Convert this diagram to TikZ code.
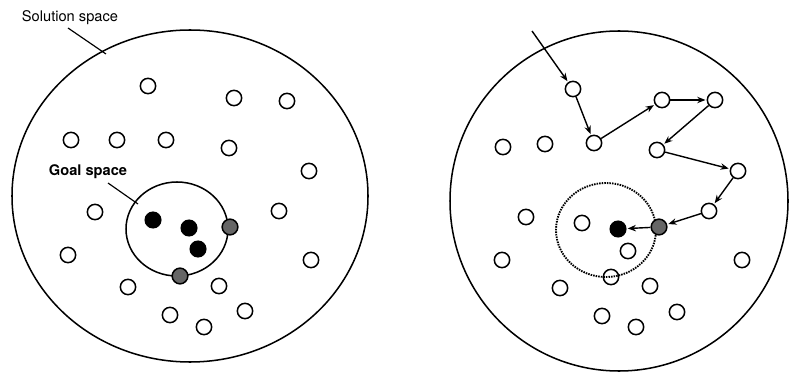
\documentclass[tikz,border=0pt]{standalone}
\usepackage{fontspec}
\setmainfont{TeX Gyre Heros}
\usetikzlibrary{positioning, arrows.meta, calc}
\tikzset{every picture/.append style={thick}}
\tikzset{
    pt/.style={circle, draw, line width=1.3pt, minimum size=0.46cm, inner sep=0pt},
    hit/.style={circle, draw, fill=black, line width=1.2pt, minimum size=0.47cm, inner sep=0pt},
    edge/.style={circle, draw, fill=black!60, line width=1.3pt, minimum size=0.47cm, inner sep=0pt},
    lbl/.style={font=\fontsize{12.5}{14}\selectfont},
    move/.style={->, >={Stealth[length=7pt, width=5.5pt]}, line width=1.2pt, shorten >=1pt}
}

\begin{document}
\begin{tikzpicture}[x=0.03cm, y=-0.03cm]
    \useasboundingbox (0,0) rectangle (789,372);

    % ---------- left: solution space with goal space ----------
    \draw[line width=1.3pt] (190,196) ellipse [x radius=178, y radius=166];
    \node[lbl] (soln) at (70,18) {Solution space};
    \coordinate (solnend) at (106,54);
    \draw[line width=1pt] (68,28) -- (solnend);

    % points of the solution space
    \foreach \n/\x/\y in {a/148/86, b/234/98, c/287/101, d/71/140, e/117/140,
                          f/166/140, g/229/148, h/309/171, i/95/212, j/279/211,
                          k/68/255, l/311/260, m/128/287, n/219/286, o/170/315,
                          p/245/311, q/204/327}
        \node[pt] (L\n) at (\x,\y) {};

    % goal space
    \draw[line width=1.3pt] (177,229) ellipse [x radius=51, y radius=47];
    \node[lbl, font=\bfseries\fontsize{12.5}{14}\selectfont] (goal) at (88,172) {Goal space};
    \coordinate (goalend) at (138,204);
    \draw[line width=1pt] (108,183) -- (goalend);

    \node[hit] (Lg1) at (153,220) {};
    \node[hit] (Lg2) at (189,228) {};
    \node[hit] (Lg3) at (198,249) {};
    \node[edge] (Le1) at (230,227) {};
    \node[edge] (Le2) at (180,276) {};

    % ---------- right: search path through the space ----------
    \draw[line width=1.3pt] (619,201) ellipse [x radius=169, y radius=170];
    \draw[line width=1.6pt, dash pattern=on 1.3pt off 0.9pt] (606,230) ellipse [x radius=50, y radius=47];

    \foreach \n/\x/\y in {a/503/147, b/545/144, c/526/217, d/582/223, e/628/251,
                          f/502/260, g/742/260, h/611/277, i/560/288, j/650/286,
                          k/602/316, l/677/312, m/636/327}
        \node[pt] (R\n) at (\x,\y) {};

    % path nodes
    \node[pt] (p1) at (573,89) {};
    \node[pt] (p2) at (594,143) {};
    \node[pt] (p3) at (662,100) {};
    \node[pt] (p4) at (715,100) {};
    \node[pt] (p5) at (657,150) {};
    \node[pt] (p6) at (738,171) {};
    \node[pt] (p7) at (709,211) {};
    \node[edge] (p8) at (659,227) {};
    \node[hit] (Rg) at (618,229) {};

    \coordinate (start) at (532,31);
    \draw[move] (start) -- (p1);
    \draw[move] (p1) -- (p2);
    \draw[move] (p2) -- (p3);
    \draw[move] (p3) -- (p4);
    \draw[move] (p4) -- (p5);
    \draw[move] (p5) -- (p6);
    \draw[move] (p6) -- (p7);
    \draw[move] (p7) -- (p8);
    \draw[move] (p8) -- (Rg);
\end{tikzpicture}
\end{document}
